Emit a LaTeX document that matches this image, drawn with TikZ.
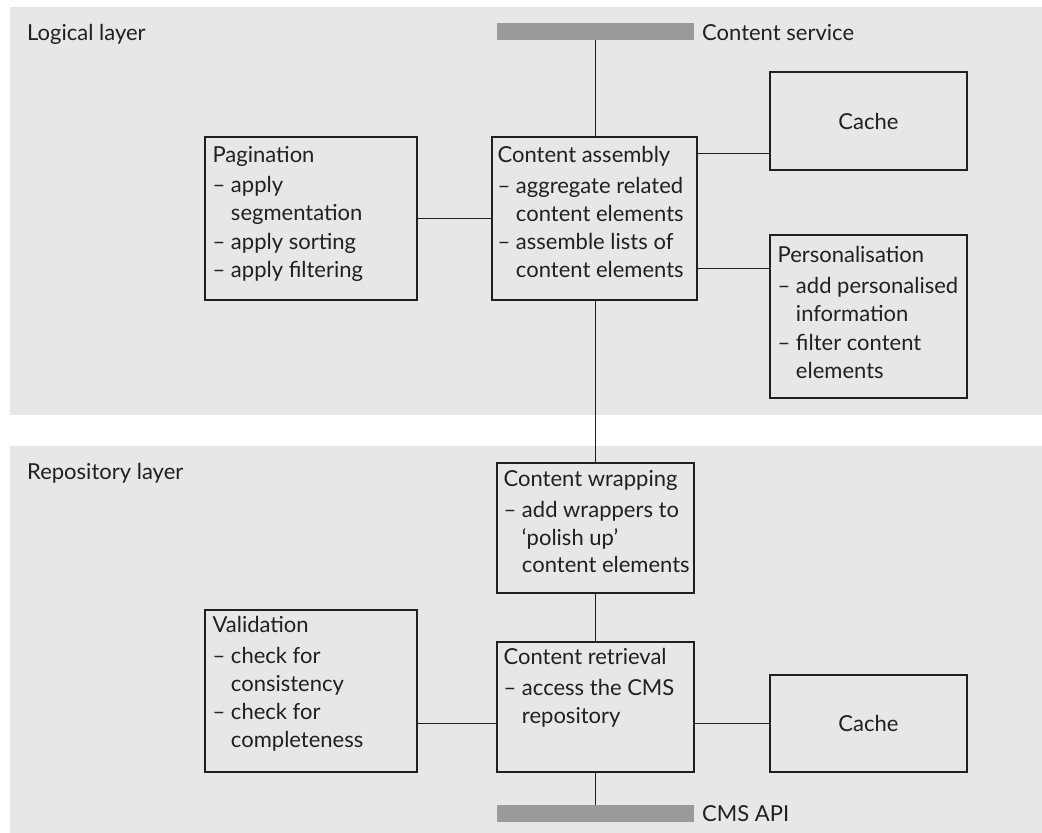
\documentclass[tikz,border=0pt]{standalone}
\usepackage{fontspec}
\setmainfont{Lato}
\usetikzlibrary{calc}
\definecolor{panel}{RGB}{230,231,231}
\definecolor{bar}{RGB}{153,154,156}
\definecolor{ink}{RGB}{35,31,32}
\newcommand{\dsh}{\textendash\ }
\newcommand{\ind}{\phantom{\textendash\ }}
\begin{document}
\begin{tikzpicture}[x=1pt,y=-1pt,
  every node/.style={text=ink,font=\fontsize{22}{27.5}\selectfont},
  box/.style={draw=ink,line width=1.2pt,inner sep=0pt,minimum width=#1},
  box/.default=197pt,
  bartag/.style={fill=bar,inner sep=0pt,minimum width=197pt,minimum height=17pt},
  link/.style={draw=ink,line width=1.1pt},
  txt/.style={anchor=base west,inner sep=0pt},
  tag/.style={anchor=base west,inner sep=0pt}]
\useasboundingbox (0,0) rectangle (1042,833);

% layer panels
\fill[panel] (10,7) rectangle (1042,415);
\fill[panel] (10,446) rectangle (1042,833);
\node[tag] (ll) at (27,40) {Logical layer};
\node[tag] (rl) at (27,479) {Repository layer};

% interface bars
\node[bartag] (svc) at (595.5,31.5) {};
\node[tag] (svct) at (702,40) {Content service};
\node[bartag] (api) at (595.5,813.5) {};
\node[tag] (apit) at (702,821) {CMS API};

% logical layer boxes
\node[box=212pt,minimum height=163pt] (pag) at (311,218.5) {};
\node[box=205pt,minimum height=163pt] (asm) at (594.5,218.5) {};
\node[box,minimum height=98pt] (cache1) at (868.5,121) {Cache};
\node[box,minimum height=163pt] (pers) at (868.5,316.5) {};

\node[txt] (pagt) at ($(pag.north west)+(8,26)$) {\parbox[t]{205pt}{%
  Pagination\\[3pt]
  \dsh apply\\
  \ind segmentation\\[2pt]
  \dsh apply sorting\\
  \dsh apply filtering}};
\node[txt] (asmt) at ($(asm.north west)+(6,26)$) {\parbox[t]{200pt}{%
  Content assembly\\[4pt]
  \dsh aggregate related\\
  \ind content elements\\[1pt]
  \dsh assemble lists of\\
  \ind content elements}};
\node[txt] (perst) at ($(pers.north west)+(8,28)$) {\parbox[t]{195pt}{%
  Personalisation\\[4pt]
  \dsh add personalised\\
  \ind information\\[2pt]
  \dsh filter content\\
  \ind elements}};

% repository layer boxes
\node[box] (wrap) at (595.5,528) [minimum height=130pt] {};
\node[box] (ret) at (595.5,707) [minimum height=130pt] {};
\node[box,minimum height=97pt] (cache2) at (868.5,723.5) {Cache};
\node[box=212pt,minimum height=162pt] (val) at (311,691) {};

\node[txt] (wrapt) at ($(wrap.north west)+(7,24)$) {\parbox[t]{195pt}{%
  Content wrapping\\[4pt]
  \dsh add wrappers to\\
  \ind `polish up'\\
  \ind content elements}};
\node[txt] (rett) at ($(ret.north west)+(7,23)$) {\parbox[t]{195pt}{%
  Content retrieval\\[4pt]
  \dsh access the CMS\\
  \ind repository}};
\node[txt] (valt) at ($(val.north west)+(8,23)$) {\parbox[t]{205pt}{%
  Validation\\[4pt]
  \dsh check for\\
  \ind consistency\\[1pt]
  \dsh check for\\
  \ind completeness}};

% connectors
\draw[link] (svc.south) -- (svc.south |- asm.north);
\draw[link] (pag.east) -- (asm.west);
\draw[link] ($(asm.north east)+(0,17)$) -- (cache1.west |- {$(asm.north east)+(0,17)$});
\draw[link] ($(asm.north east)+(0,132)$) -- (pers.west |- {$(asm.north east)+(0,132)$});
\draw[link] (wrap.north |- asm.south) -- (wrap.north);
\draw[link] (wrap.south) -- (ret.north);
\draw[link] (ret.south) -- (api.north);
\draw[link] (ret.east |- cache2.west) -- (cache2.west);
\draw[link] (val.east |- cache2.west) -- (ret.west |- cache2.west);
\end{tikzpicture}
\end{document}
